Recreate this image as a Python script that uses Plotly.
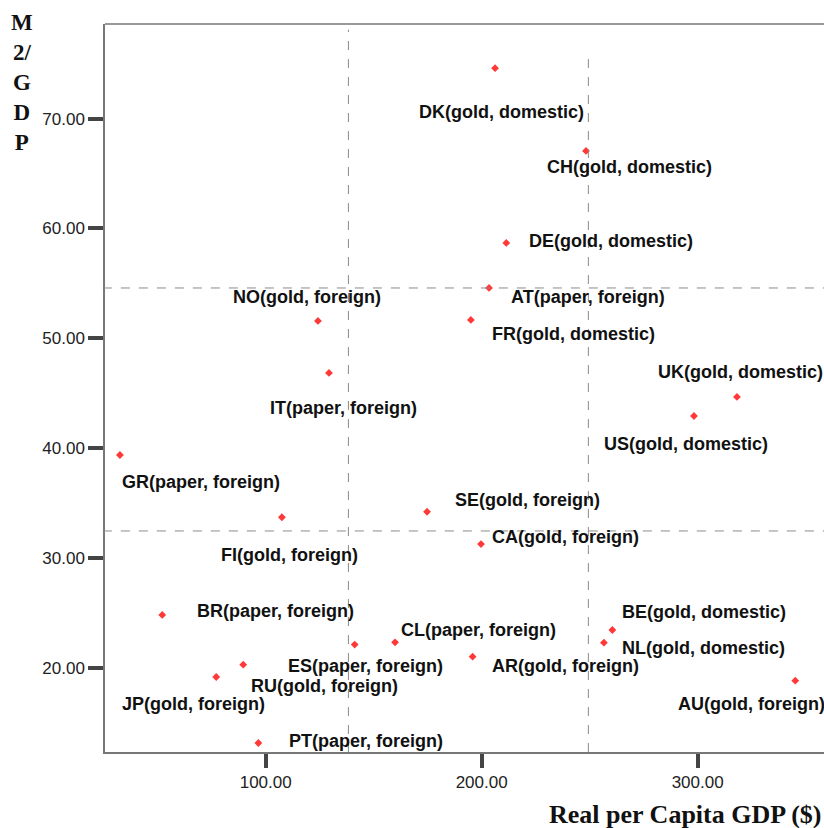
import plotly.graph_objects as go

countries = ["DK", "CH", "DE", "AT", "FR", "NO", "IT", "UK", "US", "GR", "FI", "SE", "CA",
             "BR", "CL", "ES", "AR", "RU", "JP", "PT", "BE", "NL", "AU"]
regimes = ["gold, domestic", "gold, domestic", "gold, domestic", "paper, foreign", "gold, domestic",
           "gold, foreign", "paper, foreign", "gold, domestic", "gold, domestic", "paper, foreign",
           "gold, foreign", "gold, foreign", "gold, foreign", "paper, foreign", "paper, foreign",
           "paper, foreign", "gold, foreign", "gold, foreign", "gold, foreign", "paper, foreign",
           "gold, domestic", "gold, domestic", "gold, foreign"]
gdp = [206.2, 248.3, 211.4, 203.4, 195.0, 124.2, 129.3, 318.2, 298.3, 32.5, 107.5, 174.7, 199.7,
       52.1, 159.9, 141.2, 195.8, 89.6, 77.1, 96.6, 260.5, 256.6, 345.2]
m2gdp = [74.6, 67.06, 58.68, 54.58, 51.67, 51.58, 46.84, 44.66, 42.92, 39.37, 33.7, 34.2, 31.26,
         24.8, 22.31, 22.1, 21.0, 20.27, 19.15, 13.14, 23.43, 22.28, 18.82]
# label offsets in pixels (dx right, dy down)
label_dx = [6, 44, 105, 99, 103, -11, 15, 4, -8, 81, 8, 100, 84, 113, 83, 11, 93, 81, -23, 108, 92, 100, -44]
label_dy = [44, 16, -2, 9, 14, -24, 35, -25, 28, 27, 38, -12, -7, -4, -12, 21, 9, 21, 27, -2, -18, 5, 23]

x_ticks = [100, 200, 300]
y_ticks = [20, 30, 40, 50, 60, 70]
v_refs = [138.3, 249.4]
v_ref_tops = [78.1, 76.05]
h_refs = [54.58, 32.45]

xr = [25.6, 358.5]
yr = [12.32, 78.62]

fig = go.Figure()
fig.add_trace(go.Scatter(
    x=gdp, y=m2gdp, mode="markers",
    marker=dict(symbol="diamond", size=6, color="#ff3838", line=dict(width=0)),
    hoverinfo="skip", showlegend=False))

shapes = []
for xv, top in zip(v_refs, v_ref_tops):
    shapes.append(dict(type="line", xref="x", yref="y", x0=xv, x1=xv, y0=yr[0], y1=top,
                       line=dict(color="#8a8a8a", width=1, dash="dash")))
for yv in h_refs:
    shapes.append(dict(type="line", xref="paper", yref="y", x0=-0.003, x1=1, y0=yv, y1=yv,
                       line=dict(color="#8a8a8a", width=1, dash="dash")))
shapes.append(dict(type="line", xref="paper", yref="paper", x0=0, x1=1, y0=1, y1=1,
                   line=dict(color="#777777", width=1.5)))

annotations = []
for c, r, x, y, dx, dy in zip(countries, regimes, gdp, m2gdp, label_dx, label_dy):
    annotations.append(dict(x=x, y=y, xref="x", yref="y", text=f"<b>{c}({r})</b>",
                            showarrow=False, xshift=dx, yshift=-dy,
                            font=dict(family="Liberation Sans, Arial", size=18, color="#111111")))
annotations.append(dict(x=-0.1154, y=1.022, xref="paper", yref="paper", xanchor="center", yanchor="top",
                        text="<b>M<br>2/<br>G<br>D<br>P</b>", showarrow=False,
                        font=dict(family="Liberation Serif, Times New Roman", size=23, color="#111111")))
annotations.append(dict(x=1, y=-0.0865, xref="paper", yref="paper", xanchor="right", yanchor="middle",
                        text="<b>Real per Capita GDP ($)</b>", showarrow=False,
                        font=dict(family="Liberation Serif, Times New Roman", size=26, color="#111111")))

fig.update_layout(
    width=824, height=828,
    margin=dict(l=105, r=0, t=24, b=76),
    paper_bgcolor="white", plot_bgcolor="white",
    shapes=shapes, annotations=annotations,
    xaxis=dict(range=xr, tickvals=x_ticks, ticktext=[f"{v:.2f}" for v in x_ticks],
               showgrid=False, zeroline=False, showline=True, linecolor="#777777", linewidth=1.5,
               ticks="outside", ticklen=14, tickwidth=4, tickcolor="#444444",
               tickfont=dict(family="Liberation Sans, Arial", size=17, color="#222222")),
    yaxis=dict(range=yr, tickvals=y_ticks, ticktext=[f"{v:.2f}" for v in y_ticks],
               showgrid=False, zeroline=False, showline=True, linecolor="#777777", linewidth=1.5,
               ticks="outside", ticklen=15, tickwidth=4, tickcolor="#444444",
               tickfont=dict(family="Liberation Sans, Arial", size=17, color="#222222")),
)
fig.write_html("out.html", config={"displayModeBar": False},
               post_script="document.body.style.margin='0';document.body.style.overflow='hidden';")
